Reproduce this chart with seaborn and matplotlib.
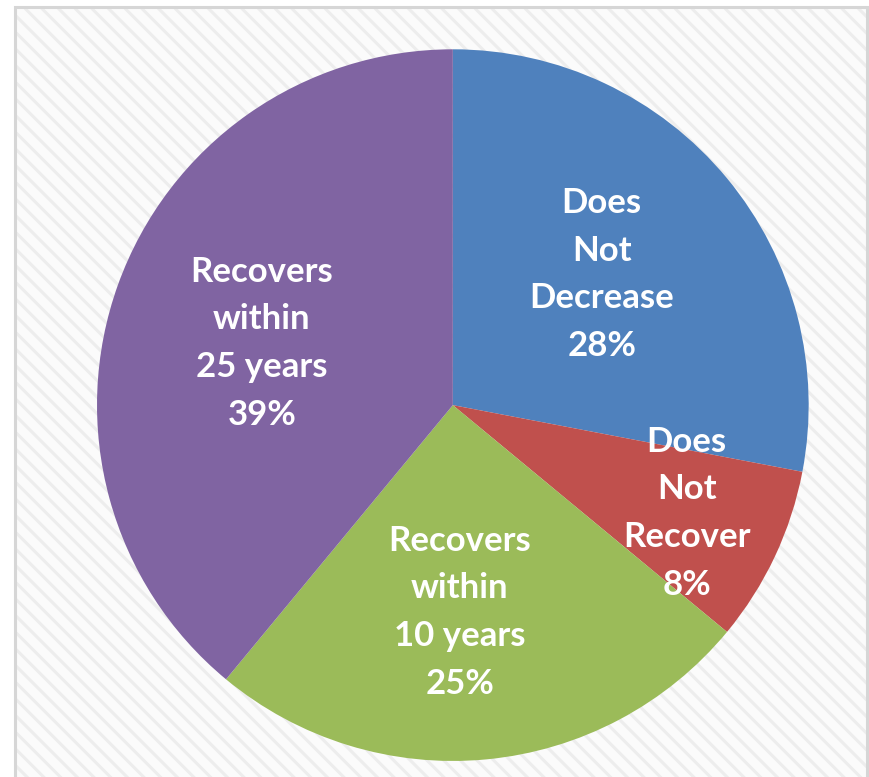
import numpy as np
import matplotlib
matplotlib.use("Agg")
import matplotlib.pyplot as plt
from matplotlib.patches import Rectangle
import seaborn as sns

# Outcome shares, clockwise from 12 o'clock
categories = ["Does\nNot\nDecrease", "Does\nNot\nRecover",
              "Recovers\nwithin\n10 years", "Recovers\nwithin\n25 years"]
shares = [28, 8, 25, 39]
palette = ["#4F81BD", "#C0504D", "#9BBB59", "#8064A2"]
# label placement: distance from centre (fraction of radius) and angular nudge (deg)
label_radius = [0.557, 0.724, 0.582, 0.564]
label_nudge = [1.7, 0.4, -3.5, 1.8]

sns.set_theme(style="white")
plt.rcParams["font.family"] = ["Lato", "DejaVu Sans"]
plt.rcParams["hatch.linewidth"] = 2.2

fig = plt.figure(figsize=(8.7, 7.77), dpi=100)
fig.patch.set_facecolor("white")

# hatched panel background
panel = Rectangle((0.0172, -0.02), 0.9794, 1.011, transform=fig.transFigure,
                  facecolor="#FBFBFB", edgecolor="#EDEDED", linewidth=0,
                  hatch="\\\\", zorder=-3)
fig.patches.append(panel)
# thin grey frame
frame = Rectangle((0.0172, -0.02), 0.9794, 1.011, transform=fig.transFigure,
                  facecolor="none", edgecolor="#D6D6D6", linewidth=2.2,
                  zorder=-2)
fig.patches.append(frame)

ax = fig.add_axes([0.1115, 0.0206, 0.818, 0.916])
ax.set_zorder(1)
ax.set_facecolor("none")
wedges, _ = ax.pie(shares, colors=sns.color_palette(palette), startangle=90,
                   counterclock=False, radius=1.0,
                   wedgeprops=dict(linewidth=0, antialiased=True))
ax.set_xlim(-1, 1)
ax.set_ylim(-1, 1)
ax.set_aspect("equal")
ax.axis("off")

for w, cat, val, rr, nd in zip(wedges, categories, shares, label_radius, label_nudge):
    mid = np.deg2rad((w.theta1 + w.theta2) / 2 + nd)
    ax.text(rr * np.cos(mid), rr * np.sin(mid), f"{cat}\n{val}%",
            ha="center", va="center", color="white", fontsize=25,
            fontweight="bold", linespacing=1.6)

fig.savefig("out.png", dpi=100)
